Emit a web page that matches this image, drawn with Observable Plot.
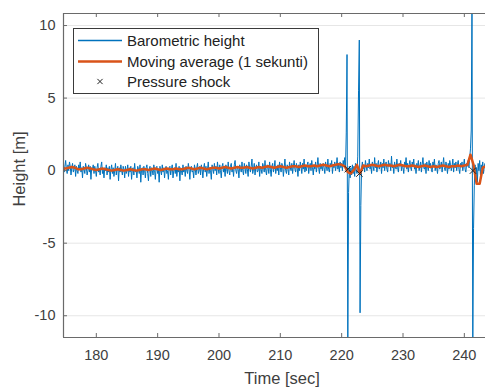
<!DOCTYPE html>
<html>
<head>
<meta charset="utf-8">
<script src="https://cdn.jsdelivr.net/npm/d3@7"></script>
<script src="https://cdn.jsdelivr.net/npm/@observablehq/plot@0.6"></script>
<style>
  body { margin: 0; background: #fff; }
  svg { font-family: "Liberation Sans", Arial, sans-serif; }
</style>
</head>
<body>
<div id="chart"></div>
<script>
// ---- Data ----
const blueStart = 174.5;   // sec
const blueStep = 0.125;    // sec
const blueValues = [
  0.2, 0.5, -0.1, 0.3, 0.7, 0.1, -0.2, 0.4, 0.0, 0.6, 0.3, -0.3, 0.2, 0.5, -0.1, 0.1, 0.4, -0.4, 0.3, 0.0,
  -0.2, 0.4, 0.1, 0.6, -0.1, 0.2, -0.5, 0.3, 0.1, -0.2, 0.5, 0.2, -0.3, 0.0, 0.4, -0.1, 0.3, -0.6, 0.2, 0.1,
  0.4, -0.2, 0.3, 0.0, -0.4, 0.2, 0.5, -0.1, 0.1, -0.3, 0.3, 0.6, -0.2, 0.1, -0.5, 0.2, 0.0, 0.4, -0.3, 0.2,
  -0.1, 0.3, -0.6, 0.1, 0.4, -0.2, 0.2, -0.4, 0.0, 0.5, -0.3, 0.1, 0.3, -0.7, 0.2, -0.1, 0.4, 0.0, -0.3, 0.3,
  0.1, -0.5, 0.3, -0.2, 0.0, 0.4, -0.4, 0.2, -0.1, 0.3, -0.6, 0.1, 0.2, -0.3, 0.5, -0.1, 0.0, -0.5, 0.3, 0.1,
  -0.2, 0.4, -0.8, 0.1, 0.2, -0.3, 0.3, 0.0, -0.5, 0.2, 0.4, -0.2, -0.7, 0.1, 0.3, -0.4, 0.2, 0.0, -0.3, 0.4,
  0.0, -0.6, 0.2, 0.3, -0.2, 0.1, -0.8, 0.3, 0.0, -0.3, 0.4, -0.1, 0.2, -0.5, 0.1, 0.3, -0.2, 0.0, -0.6, 0.2,
  0.3, -0.3, 0.1, 0.4, -0.5, 0.0, 0.2, -0.2, 0.5, -0.4, 0.1, -0.1, 0.3, -0.7, 0.2, 0.0, -0.3, 0.4, -0.1, 0.2,
  -0.4, 0.3, 0.0, -0.2, 0.5, 0.1, -0.6, 0.2, 0.3, -0.1, 0.0, -0.5, 0.4, 0.1, -0.3, 0.2, 0.5, -0.2, 0.0, 0.3,
  -0.3, 0.4, 0.1, -0.5, 0.2, 0.5, -0.1, 0.3, -0.4, 0.1, 0.6, -0.2, 0.2, 0.0, -0.6, 0.4, 0.1, -0.2, 0.5, 0.0,
  0.3, -0.3, 0.6, 0.1, -0.2, 0.4, 0.0, -0.5, 0.3, 0.5, -0.1, 0.2, -0.4, 0.4, 0.1, -0.2, 0.6, 0.0, -0.3, 0.3,
  0.5, -0.1, 0.2, -0.4, 0.4, 0.7, 0.0, -0.2, 0.3, 0.1, -0.5, 0.4, 0.2, -0.1, 0.6, 0.0, -0.3, 0.5, 0.2, -0.2,
  0.4, 0.1, -0.4, 0.6, 0.2, -0.1, 0.3, 0.8, -0.2, 0.1, 0.5, -0.3, 0.2, 0.4, -0.1, 0.0, 0.6, -0.4, 0.3, 0.1,
  -0.2, 0.5, 0.3, -0.1, 0.7, 0.0, -0.3, 0.4, 0.2, -0.2, 0.6, 0.1, -0.4, 0.3, 0.5, -0.1, 0.2, 0.7, -0.2, 0.3,
  0.0, 0.4, -0.3, 0.6, 0.2, -0.1, 0.5, 0.3, -0.4, 0.2, 0.8, 0.0, -0.2, 0.4, 0.1, -0.3, 0.6, 0.2, 0.0, 0.5,
  -0.2, 0.3, 0.7, 0.1, -0.1, 0.5, 0.2, -0.4, 0.4, 0.0, 0.6, 0.3, -0.2, 0.5, 0.1, 0.8, -0.1, 0.3, 0.0, 0.4,
  0.6, -0.2, 0.3, 0.5, 0.0, 0.7, 0.2, -0.3, 0.4, 0.1, 0.6, -0.1, 0.3, 0.9, 0.2, -0.2, 0.5, 0.1, 0.4, 0.0,
  0.5, 0.2, -0.2, 0.6, 0.3, 0.0, 0.8, 0.1, -0.1, 0.5, 0.3, 0.7, -0.2, 0.4, 0.2, 0.6, 0.0, 0.3, 0.9, 0.1,
  0.4, -0.1, 0.6, 0.2, 0.5, 0.0, 0.7, 0.3, 0.9, 0.1, 2.6, 8.0, -13.0, -1.5, 0.3, -0.5, 0.2, -0.3, 0.4, -0.2,
  0.3, -0.4, 0.5, 0.0, -0.2, 1.0, 5.5, 9.0, -9.8, -2.4, 0.2, 0.6, 0.1, 0.4, -0.1, 0.7, 0.3, 0.0, 0.5, 0.2,
  0.8, 0.1, 0.4, -0.2, 0.6, 0.3, 0.0, 0.9, 0.2, 0.5, -0.1, 0.4, 0.7, 0.1, 0.3, 0.6, -0.2, 0.5, 0.2, 0.8,
  0.0, 0.4, 0.6, 0.1, -0.1, 0.7, 0.3, 0.5, 0.0, 1.0, 0.2, 0.4, -0.2, 0.6, 0.3, 0.1, 0.8, 0.2, -0.1, 0.5,
  0.3, 0.7, 0.0, 0.4, 0.2, -0.2, 0.6, 0.3, 0.9, 0.1, 0.5, -0.1, 0.4, 0.7, 0.2, 0.0, 0.6, 0.3, 0.8, 0.1,
  0.4, -0.2, 0.5, 0.2, 0.7, 0.0, 0.3, 0.6, -0.1, 0.4, 0.9, 0.2, 0.1, 0.5, -0.2, 0.6, 0.3, 0.0, 0.7, 0.2,
  0.5, 0.1, -0.1, 0.6, 0.3, 0.8, 0.0, 0.4, 0.2, -0.2, 0.5, 0.7, 0.1, 0.3, 0.6, -0.1, 0.4, 0.9, 0.2, 0.0,
  0.6, 0.3, -0.2, 0.5, 0.1, 0.7, 0.4, 0.0, 0.3, 0.8, -0.1, 0.5, 0.2, 0.6, 0.0, 0.4, 0.7, 0.1, -0.2, 0.5,
  0.3, 0.6, 0.0, 0.4, 0.8, 0.1, -0.1, 0.5, 0.3, 0.7, 0.2, 0.9, 1.5, 2.8, 12.0, -13.0, -4.0, -1.0, 0.4, -0.6,
  0.2, -0.8, 0.5, 0.0, 0.7, -0.3, 0.4, 0.1, 0.6, -0.2, 0.3, 0.5, 0.0
];

const avgStart = 174.5;
const avgStep = 0.5;
const avgValues = [
  0.15, 0.15, 0.2, 0.25, 0.2, 0.1, 0.1, 0.15, 0.2, 0.15,
  0.1, 0.05, 0.1, 0.15, 0.1, 0.05, 0.0, 0.05, 0.1, 0.05,
  0.0, 0.05, 0.1, 0.05, 0.0, 0.05, 0.1, 0.1, 0.05, 0.1,
  0.15, 0.1, 0.05, 0.1, 0.15, 0.1, 0.1, 0.15, 0.1, 0.1,
  0.15, 0.2, 0.15, 0.1, 0.15, 0.2, 0.15, 0.1, 0.15, 0.2,
  0.2, 0.15, 0.2, 0.25, 0.2, 0.15, 0.2, 0.25, 0.2, 0.2,
  0.25, 0.2, 0.15, 0.2, 0.25, 0.2, 0.25, 0.3, 0.25, 0.2,
  0.25, 0.3, 0.25, 0.2, 0.25, 0.3, 0.3, 0.25, 0.3, 0.35,
  0.3, 0.3, 0.35, 0.3, 0.35, 0.4, 0.35, 0.3, 0.35, 0.4,
  0.45, 0.4, 0.3, -0.1, -0.2, 0.05, 0.4, -0.2, 0.35, 0.3,
  0.35, 0.4, 0.35, 0.3, 0.35, 0.4, 0.35, 0.35, 0.3, 0.35,
  0.4, 0.35, 0.3, 0.3, 0.35, 0.3, 0.25, 0.3, 0.35, 0.3,
  0.25, 0.3, 0.25, 0.3, 0.35, 0.3, 0.25, 0.3, 0.3, 0.35,
  0.3, 0.35, 0.4, 1.1, 0.4, -0.9, -0.9, 0.2, 0.3
];

const shockTimes = [221.0, 222.9, 241.4];
const shockValues = [0.1, -0.2, 0.0];

const xTicks = [180, 190, 200, 210, 220, 230, 240];
const yTicks = [-10, -5, 0, 5, 10];
const xDomain = [174.65, 243.45];
const yDomain = [-11.5, 10.83];

const seriesNames = ["Barometric height", "Moving average (1 sekunti)", "Pressure shock"];
const xLabel = "Time [sec]";
const yLabel = "Height [m]";

// ---- Build tables ----
const blue = blueValues.map((v, i) => ({t: blueStart + i * blueStep, h: v}));
const avg = avgValues.map((v, i) => ({t: avgStart + i * avgStep, h: v}));
const shocks = shockTimes.map((t, i) => ({t, h: shockValues[i]}));

const W = 485, H = 387;
const mL = 63, mT = 13, mB = 50, mR = 0;
const plotW = W - mL - mR, plotH = H - mT - mB;
const blueColor = "#0072BD", orangeColor = "#D95319";
const axisColor = "#6a6a6a", textColor = "#404040";

const chart = Plot.plot({
  width: W,
  height: H,
  marginLeft: mL,
  marginTop: mT,
  marginBottom: mB,
  marginRight: mR,
  x: {domain: xDomain},
  y: {domain: yDomain},
  style: {fontFamily: '"Liberation Sans", Arial, sans-serif', background: "#fff"},
  marks: [
    Plot.gridY(yTicks, {stroke: "#e6e6e6", strokeOpacity: 1, strokeWidth: 1}),
    Plot.lineY(blue, {x: "t", y: "h", stroke: blueColor, strokeWidth: 1, clip: true}),
    Plot.lineY(avg, {x: "t", y: "h", stroke: orangeColor, strokeWidth: 2.5, clip: true}),
    Plot.dot(shocks, {x: "t", y: "h", symbol: "times", r: 3, stroke: "#222", strokeWidth: 1}),
    // inward ticks
    Plot.tickX(xTicks, {x: d => d, stroke: axisColor, insetTop: plotH - 4}),
    Plot.tickX(xTicks, {x: d => d, stroke: axisColor, insetBottom: plotH - 4}),
    Plot.tickY(yTicks, {y: d => d, stroke: axisColor, insetRight: plotW - 4}),
    // frame lines
    Plot.ruleX([xDomain[0]], {stroke: axisColor, strokeWidth: 1.2}),
    Plot.ruleY([yDomain[0]], {stroke: axisColor, strokeWidth: 1.2}),
    Plot.ruleY([yDomain[1]], {stroke: axisColor, strokeWidth: 1.2}),
    Plot.axisX(xTicks, {tickSize: 0, tickPadding: 12, fontSize: 14.5, fill: textColor, label: null}),
    Plot.axisY(yTicks, {tickSize: 0, tickPadding: 8, fontSize: 14.5, fill: textColor, label: null, tickFormat: d => String(d)})
  ]
});

document.getElementById("chart").appendChild(chart);

// ---- Axis labels and legend ----
const svg = d3.select(chart);
const font = '"Liberation Sans", Arial, sans-serif';

svg.append("text")
  .attr("x", 282).attr("y", 384)
  .attr("text-anchor", "middle")
  .attr("font-family", font).attr("font-size", 16.5)
  .attr("fill", textColor)
  .text(xLabel);

svg.append("text")
  .attr("transform", "translate(25,169) rotate(-90)")
  .attr("text-anchor", "middle")
  .attr("font-family", font).attr("font-size", 16.5)
  .attr("fill", textColor)
  .text(yLabel);

const lg = svg.append("g");
lg.append("rect")
  .attr("x", 73.5).attr("y", 28.5).attr("width", 245).attr("height", 65)
  .attr("fill", "#fff").attr("stroke", "#3a3a3a").attr("stroke-width", 1);

const rows = [40.5, 61.5, 81.5];
lg.append("line").attr("x1", 78).attr("x2", 122).attr("y1", rows[0]).attr("y2", rows[0])
  .attr("stroke", blueColor).attr("stroke-width", 1.5);
lg.append("line").attr("x1", 78).attr("x2", 122).attr("y1", rows[1]).attr("y2", rows[1])
  .attr("stroke", orangeColor).attr("stroke-width", 2.5);
const cx = 100, cy = rows[2], s = 2.6;
lg.append("path").attr("d", `M${cx - s},${cy - s}L${cx + s},${cy + s}M${cx - s},${cy + s}L${cx + s},${cy - s}`)
  .attr("stroke", "#222").attr("stroke-width", 1).attr("fill", "none");

seriesNames.forEach((name, i) => {
  lg.append("text")
    .attr("x", 127).attr("y", rows[i])
    .attr("dy", "0.36em")
    .attr("text-anchor", "start")
    .attr("font-family", font).attr("font-size", 15)
    .attr("fill", "#222")
    .text(name);
});
</script>
</body>
</html>
